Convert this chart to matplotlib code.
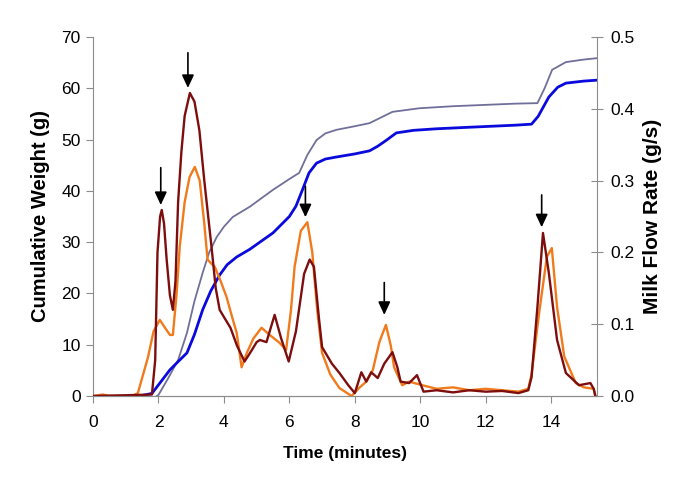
import matplotlib
matplotlib.use("Agg")
import matplotlib.pyplot as plt
from matplotlib.ticker import FormatStrFormatter

plt.rcParams['font.family'] = ['Liberation Sans', 'DejaVu Sans']

# cumulative weight (g), left axis
blue_t = [1.5, 1.8, 2.1, 2.35, 2.6, 2.87, 3.1, 3.35, 3.6, 3.87, 4.1, 4.39, 4.79, 5.1, 5.5,
          6.0, 6.2, 6.4, 6.6, 6.83, 7.1, 7.44, 8.0, 8.45, 8.7, 8.95, 9.27, 9.8, 10.5, 11.5,
          12.9, 13.4, 13.6, 13.93, 14.2, 14.45, 15.0, 15.45]
blue_w = [0.1, 0.5, 3.0, 5.1, 6.7, 8.4, 12.0, 16.8, 20.5, 23.6, 25.6, 27.1, 28.6, 30.0, 31.8,
          35.0, 37.0, 40.2, 43.5, 45.4, 46.2, 46.6, 47.2, 47.8, 48.7, 49.8, 51.3, 51.8, 52.1, 52.4,
          52.8, 53.0, 54.5, 58.3, 60.2, 61.0, 61.4, 61.6]

gray_t = [1.95, 2.0, 2.3, 2.6, 2.87, 3.1, 3.35, 3.55, 3.78, 4.0, 4.27, 4.79, 5.5, 6.0, 6.3,
          6.55, 6.83, 7.1, 7.44, 8.0, 8.45, 8.8, 9.15, 9.97, 11.0, 12.9, 13.58, 13.8, 14.03,
          14.45, 15.0, 15.45]
gray_w = [0.0, 0.2, 3.5, 7.0, 12.3, 18.5, 24.0, 28.0, 31.0, 33.0, 34.9, 36.9, 40.2, 42.3, 43.5,
          47.0, 49.9, 51.2, 51.9, 52.6, 53.2, 54.3, 55.4, 56.1, 56.5, 57.0, 57.1, 60.0, 63.6,
          65.1, 65.6, 65.9]

# milk flow rate (g/s), right axis
red_t = [0, 1.0, 1.8, 1.9, 1.97, 2.05, 2.1, 2.17, 2.25, 2.35, 2.44, 2.52, 2.6, 2.7, 2.8,
         2.96, 3.1, 3.25, 3.4, 3.62, 3.75, 3.87, 4.0, 4.2, 4.4, 4.63, 4.8, 5.0, 5.1, 5.3,
         5.55, 5.75, 5.98, 6.2, 6.45, 6.62, 6.75, 6.9, 7.0, 7.3, 7.53, 7.8, 8.0, 8.2, 8.35,
         8.5, 8.7, 8.9, 9.15, 9.3, 9.4, 9.66, 9.9, 10.1, 10.5, 11.0, 11.5, 12.0, 12.5, 13.0,
         13.3, 13.4, 13.58, 13.75, 13.93, 14.18, 14.45, 14.85, 15.2, 15.3, 15.35]
red_f = [0.0, 0.001, 0.002, 0.05, 0.2, 0.25, 0.259, 0.24, 0.19, 0.14, 0.12, 0.16, 0.27, 0.34, 0.39,
         0.422, 0.41, 0.37, 0.30, 0.208, 0.15, 0.12, 0.11, 0.095, 0.07, 0.048, 0.06, 0.075, 0.078, 0.075,
         0.113, 0.08, 0.048, 0.09, 0.17, 0.19, 0.18, 0.11, 0.068, 0.045, 0.032, 0.015, 0.004, 0.033, 0.02,
         0.033, 0.025, 0.045, 0.061, 0.04, 0.02, 0.018, 0.029, 0.006, 0.008, 0.005, 0.008, 0.006, 0.007, 0.004,
         0.008, 0.026, 0.124, 0.227, 0.171, 0.078, 0.032, 0.015, 0.018, 0.01, 0.0]

orange_t = [0, 0.3, 0.5, 1.2, 1.37, 1.5, 1.68, 1.85, 2.04, 2.2, 2.35, 2.44, 2.55, 2.65, 2.8,
            2.95, 3.11, 3.26, 3.4, 3.5, 3.6, 3.72, 3.9, 4.08, 4.25, 4.39, 4.54, 4.7, 4.9, 5.15,
            5.4, 5.7, 5.9, 6.05, 6.16, 6.35, 6.55, 6.7, 6.85, 7.0, 7.25, 7.53, 7.9, 8.15, 8.35,
            8.55, 8.75, 8.95, 9.1, 9.2, 9.45, 9.66, 10.06, 10.5, 11.0, 11.5, 12.0, 12.5, 13.0, 13.3,
            13.4, 13.63, 13.87, 14.02, 14.18, 14.4, 14.75, 15.0, 15.3, 15.35]
orange_f = [0.0, 0.002, 0.0, 0.0, 0.004, 0.025, 0.054, 0.09, 0.106, 0.095, 0.085, 0.085, 0.14, 0.208, 0.27,
            0.305, 0.319, 0.30, 0.24, 0.19, 0.185, 0.18, 0.16, 0.138, 0.11, 0.088, 0.04, 0.06, 0.08, 0.095,
            0.085, 0.074, 0.064, 0.12, 0.18, 0.23, 0.242, 0.2, 0.12, 0.06, 0.03, 0.011, 0.0, 0.012, 0.02,
            0.036, 0.075, 0.099, 0.07, 0.04, 0.015, 0.02, 0.015, 0.01, 0.012, 0.008, 0.01, 0.008, 0.006, 0.01,
            0.03, 0.115, 0.194, 0.206, 0.124, 0.055, 0.018, 0.012, 0.01, 0.0]

# arrows marking the peaks: time, tip and tail on the flow axis
arrow_t = [2.07, 2.9, 6.49, 8.9, 13.71]
arrow_tip = [0.266, 0.429, 0.249, 0.113, 0.235]
arrow_tail = [0.318, 0.478, 0.292, 0.158, 0.28]

fig = plt.figure(figsize=(6.85, 4.93), dpi=100)
ax = fig.add_axes([0.1358, 0.1968, 0.7357, 0.7282])
ax2 = ax.twinx()

ax.plot(gray_t, gray_w, color='#6F6F9A', lw=1.3)
ax.plot(blue_t, blue_w, color='#0A0ADC', lw=2.0)
ax2.plot(orange_t, orange_f, color='#F07A1C', lw=1.7)
ax2.plot(red_t, red_f, color='#7E0E0E', lw=1.7)

for t, tip, tail in zip(arrow_t, arrow_tip, arrow_tail):
    ax2.annotate('', xy=(t, tip), xytext=(t, tail),
                 arrowprops=dict(arrowstyle='-|>,head_length=0.6,head_width=0.28',
                                 color='black', lw=1.2,
                                 mutation_scale=13, shrinkA=0, shrinkB=0))

ax.set_xlim(0, 15.4)
ax.set_ylim(0, 70)
ax2.set_ylim(0, 0.5)
ax.set_xticks(range(0, 15, 2))
ax.set_yticks(range(0, 71, 10))
ax2.set_yticks([0, 0.1, 0.2, 0.3, 0.4, 0.5])
ax2.yaxis.set_major_formatter(FormatStrFormatter('%.1f'))

for a in (ax, ax2):
    a.spines['top'].set_visible(False)
    for s in ('left', 'right', 'bottom'):
        a.spines[s].set_color('#8C8C8C')
ax2.spines['left'].set_visible(False)
ax.spines['right'].set_visible(False)

ax.tick_params(axis='both', direction='out', length=5, color='#8C8C8C', labelsize=12.5, pad=4)
ax.tick_params(axis='x', pad=9)
ax2.tick_params(axis='y', direction='inout', length=9, color='#8C8C8C', labelsize=12.5, pad=5)

ax.set_xlabel('Time (minutes)', fontsize=12.5, fontweight='bold', labelpad=11)
ax.set_ylabel('Cumulative Weight (g)', fontsize=14.5, fontweight='bold', labelpad=8)
ax2.set_ylabel('Milk Flow Rate (g/s)', fontsize=15, fontweight='bold', labelpad=6)

fig.savefig('out.png', dpi=100)
